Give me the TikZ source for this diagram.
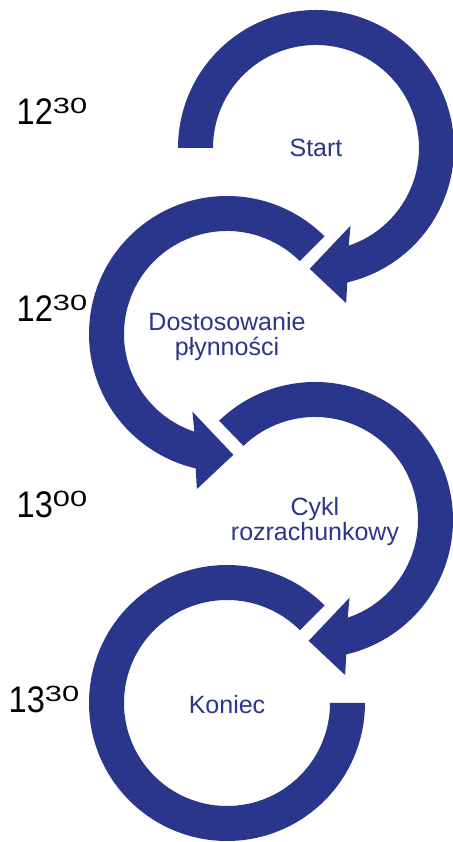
\documentclass[tikz,border=0pt]{standalone}
\usepackage{fontspec}
\setmainfont{Liberation Sans}
\usepackage{graphicx}
\usetikzlibrary{positioning}

\definecolor{cycleblue}{RGB}{42,53,140}

% hour with raised minutes
\newcommand{\hourmark}[2]{\scalebox{0.88}[1]{\fontsize{37}{37}\selectfont #1}\raisebox{11pt}{\scalebox{1.4}[1]{\fontsize{22}{22}\selectfont #2}}}

\begin{document}
\begin{tikzpicture}[x=1pt, y=1pt,
    band/.style = {fill=cycleblue, draw=none},
    phase/.style = {align=center, text=cycleblue, inner sep=0pt, font=\fontsize{25}{25}\selectfont},
    hour/.style = {anchor=base west, inner sep=0pt, text=black}
]
\useasboundingbox (0,0) rectangle (452,842);

% Centres
\coordinate (c1) at (316,694);
\coordinate (c2) at (227,508);
\coordinate (c3) at (315,322);
\coordinate (c4) at (227,139);

% Arrows
\fill[band, shift={(c1)}] (180:138) arc[start angle=180, end angle=-76.9, radius=138]
    -- (-79:158) -- (-93:121) -- (-66:85) -- (-71.5:103)
    arc[start angle=-71.5, end angle=180, radius=103] -- cycle;
\fill[band, shift={(c2)}] (45:138) arc[start angle=45, end angle=256.9, radius=138]
    -- (259:158) -- (273:121) -- (246:85) -- (251.5:103)
    arc[start angle=251.5, end angle=45, radius=103] -- cycle;
\fill[band, shift={(c3)}] (134:138) arc[start angle=134, end angle=-76.9, radius=138]
    -- (-79:158) -- (-93:121) -- (-66:85) -- (-71.5:103)
    arc[start angle=-71.5, end angle=134, radius=103] -- cycle;
\fill[band, shift={(c4)}] (45:138) arc[start angle=45, end angle=360, radius=138]
    -- (0:103) arc[start angle=360, end angle=45, radius=103] -- cycle;

% Nodes
\node (start) [phase] at (c1) {Start};
\node (liquidity) [phase] at ([yshift=-3]c2) {Dostosowanie\\płynności};
\node (settlement) [phase] at ([yshift=-2]c3) {Cykl\\rozrachunkowy};
\node (finish) [phase] at ([yshift=-2]c4) {Koniec};

\node (h1) [hour] at (16.5,717) {\hourmark{12}{30}};
\node (h2) [hour] at (16.5,520) {\hourmark{12}{30}};
\node (h3) [hour] at (16.5,324) {\hourmark{13}{00}};
\node (h4) [hour] at (8.5,129) {\hourmark{13}{30}};

\end{tikzpicture}
\end{document}
